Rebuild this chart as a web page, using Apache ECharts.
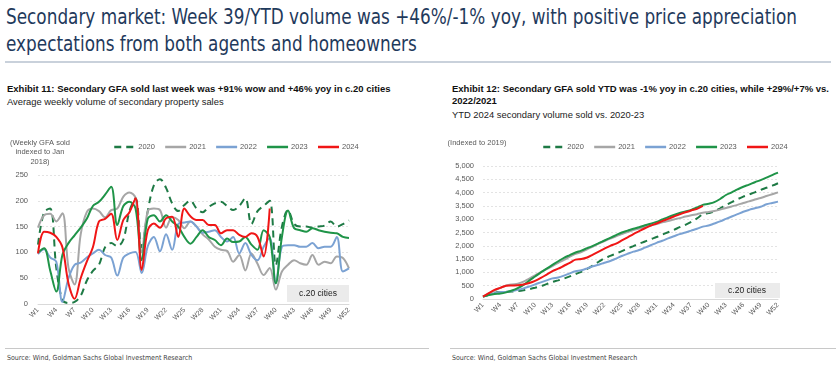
<!DOCTYPE html>
<html>
<head>
<meta charset="utf-8">
<script src="https://cdn.jsdelivr.net/npm/echarts@6/dist/echarts.min.js"></script>
<style>
  body { margin: 0; background: #fff; width: 836px; height: 376px; overflow: hidden; position: relative; font-family: "Liberation Sans", Arial, sans-serif; }
  .hd { position: absolute; left: 6px; top: 4px; font-family: "DejaVu Sans Condensed", "Liberation Sans", sans-serif; font-size: 21px; line-height: 27px; color: #1f3a5c; white-space: nowrap; transform-origin: 0 0; }
  .rule { position: absolute; left: 5px; top: 61px; width: 826px; height: 2px; background: #c9d1db; }
  .ex { position: absolute; font-size: 9.5px; font-weight: bold; color: #111; line-height: 12px; white-space: nowrap; }
  .sub { position: absolute; font-size: 9.4px; color: #222; white-space: nowrap; }
  .foot { position: absolute; top: 348px; height: 1px; background: #c8c8c8; }
  .src { position: absolute; top: 354px; font-family: "DejaVu Sans Condensed", sans-serif; font-size: 7px; color: #444; white-space: nowrap; }
  #weekly { position: absolute; left: 0; top: 130px; width: 420px; height: 215px; }
  #ytd { position: absolute; left: 420px; top: 130px; width: 416px; height: 215px; }
</style>
</head>
<body>
<div class="hd" id="hd"><span id="hd1">Secondary market: Week 39/YTD volume was +46%/-1% yoy, with positive price appreciation</span><br>expectations from both agents and homeowners</div>
<div class="rule"></div>

<div class="ex" style="left:7px;top:83px;">Exhibit 11: Secondary GFA sold last week was +91% wow and +46% yoy in c.20 cities</div>
<div class="sub" style="left:7px;top:96px;">Average weekly volume of secondary property sales</div>

<div class="ex" style="left:452px;top:83px;">Exhibit 12: Secondary GFA sold YTD was -1% yoy in c.20 cities, while +29%/+7% vs.<br>2022/2021</div>
<div class="sub" style="left:452px;top:109px;">YTD 2024 secondary volume sold vs. 2020-23</div>

<div id="weekly"></div>
<div id="ytd"></div>

<div class="foot" style="left:5px;width:424px;"></div>
<div class="foot" style="left:450px;width:386px;"></div>
<div class="src" style="left:7px;">Source: Wind, Goldman Sachs Global Investment Research</div>
<div class="src" style="left:452px;">Source: Wind, Goldman Sachs Global Investment Research</div>

<script>
// squeeze the headline to the condensed width of the original
const hd1 = document.getElementById("hd1");
document.getElementById("hd").style.transform = "scaleX(" + (791 / hd1.getBoundingClientRect().width) + ")";

// weeks W1..W52
const weeks = [];
for (let i = 1; i <= 52; i++) weeks.push("W" + i);

// Exhibit 11: weekly volume (indexed to Jan 2018)
const wk2020 = [115, 178, 185, 70, 8, 2, 4, 16, 45, 64, 76, 110, 118, 112, 125, 180, 205, 110, 180, 230, 242, 225, 195, 180, 192, 200, 185, 178, 188, 195, 198, 190, 182, 190, 205, 155, 180, 190, 200, 75, 150, 182, 155, 150, 150, 148, 150, 152, 160, 150, 155, 162];
const wk2021 = [148, 172, 175, 160, 176, 70, 38, 135, 178, 185, 180, 168, 182, 185, 208, 216, 205, 100, 180, 185, 182, 148, 168, 163, 147, 160, 150, 135, 125, 111, 105, 103, 82, 95, 65, 98, 78, 56, 70, 28, 63, 76, 85, 79, 76, 95, 76, 82, 79, 92, 89, 69];
const wk2022 = [97, 106, 90, 82, 4, 50, 76, 80, 90, 98, 105, 95, 90, 55, 90, 98, 101, 60, 112, 130, 102, 135, 105, 155, 158, 160, 150, 138, 140, 143, 130, 121, 130, 98, 118, 95, 85, 111, 128, 40, 111, 114, 114, 111, 111, 118, 108, 111, 111, 130, 63, 69];
const wk2023 = [100, 108, 65, 24, 95, 118, 133, 148, 165, 190, 198, 212, 227, 153, 190, 198, 185, 85, 165, 172, 160, 172, 160, 150, 130, 117, 130, 143, 130, 124, 114, 127, 120, 121, 130, 115, 105, 143, 130, 40, 130, 181, 147, 143, 140, 147, 143, 140, 138, 137, 130, 128];
const wk2024 = [98, 140, 138, 130, 110, 40, 10, 50, 82, 110, 160, 165, 175, 124, 163, 178, 205, 66, 143, 156, 148, 166, 169, 130, 185, 170, 163, 163, 153, 153, 137, 143, 143, 134, 130, 137, 130, 92, 185];

// Exhibit 12: YTD cumulative volume (indexed to 2019)
const ytd2020 = [90, 160, 230, 260, 270, 280, 300, 330, 370, 420, 480, 560, 640, 700, 770, 850, 940, 1020, 1130, 1260, 1400, 1530, 1620, 1710, 1800, 1900, 1990, 2080, 2160, 2250, 2330, 2420, 2510, 2600, 2700, 2790, 2900, 3030, 3180, 3230, 3290, 3410, 3530, 3640, 3750, 3850, 3930, 4010, 4100, 4180, 4260, 4350];
const ytd2021 = [90, 200, 320, 420, 510, 550, 570, 650, 770, 890, 1010, 1120, 1240, 1360, 1470, 1590, 1700, 1760, 1870, 1970, 2080, 2180, 2270, 2360, 2440, 2520, 2590, 2650, 2710, 2760, 2820, 2880, 2930, 2990, 3040, 3100, 3150, 3190, 3240, 3270, 3310, 3360, 3420, 3480, 3540, 3610, 3670, 3740, 3800, 3870, 3940, 4010];
const ytd2022 = [90, 160, 215, 260, 265, 300, 345, 400, 470, 550, 625, 700, 775, 810, 880, 965, 1040, 1080, 1150, 1230, 1290, 1365, 1430, 1520, 1615, 1700, 1780, 1840, 1930, 2020, 2110, 2190, 2280, 2360, 2440, 2500, 2570, 2640, 2720, 2760, 2840, 2920, 3010, 3100, 3190, 3280, 3350, 3410, 3470, 3560, 3610, 3660];
const ytd2023 = [90, 150, 190, 205, 250, 320, 410, 530, 690, 845, 1000, 1140, 1280, 1420, 1550, 1650, 1750, 1820, 1910, 2000, 2100, 2200, 2300, 2400, 2500, 2570, 2640, 2700, 2770, 2830, 2900, 2990, 3080, 3160, 3230, 3290, 3350, 3440, 3540, 3580, 3640, 3760, 3910, 4010, 4120, 4220, 4300, 4390, 4470, 4560, 4660, 4750];
const ytd2024 = [90, 220, 340, 420, 500, 510, 515, 545, 600, 680, 790, 920, 1050, 1140, 1250, 1360, 1480, 1500, 1560, 1670, 1780, 1890, 2000, 2080, 2200, 2320, 2440, 2550, 2660, 2760, 2840, 2930, 3010, 3100, 3180, 3260, 3330, 3390, 3500];

const years = ["2020", "2021", "2022", "2023", "2024"];
const colors = ["#1e7a45", "#a6a6a6", "#7ba2d3", "#1f9448", "#f01616"];
const labelColor = "#595959";

function makeSeries(datas) {
  return datas.map((d, i) => ({
    name: years[i],
    type: "line",
    data: d,
    symbol: "none",
    smooth: 0.35,
    z: i + 2,
    lineStyle: {
      width: 2,
      color: colors[i],
      type: i === 0 ? [7, 5] : "solid",
    },
    itemStyle: { color: colors[i] },
  }));
}

function baseOption(grid, yAxis, legendLeft) {
  return {
    animation: false,
    textStyle: { fontFamily: "Liberation Sans, Arial, sans-serif" },
    legend: {
      top: 8,
      left: legendLeft,
      itemWidth: 21,
      itemHeight: 6,
      itemGap: 9,
      itemStyle: { opacity: 0 },
      lineStyle: { width: 2.5 },
      textStyle: { fontSize: 7.5, color: labelColor, padding: [0, 0, 0, -2] },
      data: years,
    },
    grid: grid,
    xAxis: {
      type: "category",
      data: weeks,
      boundaryGap: false,
      axisTick: { show: false },
      axisLine: { lineStyle: { color: "#d9d9d9", width: 1 } },
      axisLabel: { interval: 2, rotate: 45, fontSize: 7, color: labelColor, margin: 5 },
    },
    yAxis: Object.assign({
      type: "value",
      axisLine: { show: false },
      axisTick: { show: false },
      splitLine: { lineStyle: { color: "#e3e3e3", type: [2, 2] } },
    }, yAxis),
  };
}

// Exhibit 11
let weeklyChart = echarts.init(document.getElementById("weekly"));
let opt1 = baseOption(
  { left: 38, top: 45, width: 311, height: 129 },
  { min: 0, max: 250, interval: 50, axisLabel: { fontSize: 7.5, color: labelColor, margin: 10 } },
  108
);
opt1.series = makeSeries([wk2020, wk2021, wk2022, wk2023, wk2024]);
opt1.graphic = [
  {
    type: "text",
    style: { text: "(Weekly GFA sold\nindexed to Jan\n2018)", x: 40, y: 8, fill: labelColor, fontSize: 7.5, align: "center", lineHeight: 9.5 },
  },
  { type: "rect", shape: { x: 287, y: 155, width: 62, height: 17 }, style: { fill: "#ebebeb" }, z: 10 },
  { type: "text", style: { text: "c.20 cities", x: 318, y: 163.5, fill: "#222", fontSize: 8.5, align: "center", verticalAlign: "middle" }, z: 11 },
];
weeklyChart.setOption(opt1);

// Exhibit 12
let ytdChart = echarts.init(document.getElementById("ytd"));
let opt2 = baseOption(
  { left: 63, top: 36, width: 295, height: 133 },
  {
    min: 0, max: 5000, interval: 500,
    axisLabel: {
      fontSize: 7.5, color: labelColor, margin: 9,
      formatter: (v) => v.toLocaleString("en-US"),
    },
  },
  117
);
opt2.series = makeSeries([ytd2020, ytd2021, ytd2022, ytd2023, ytd2024]);
opt2.graphic = [
  { type: "text", style: { text: "(Indexed to 2019)", x: 57, y: 13, fill: labelColor, fontSize: 7.5, align: "center", verticalAlign: "middle" } },
  { type: "rect", shape: { x: 295, y: 153, width: 65, height: 15 }, style: { fill: "#ebebeb" }, z: 10 },
  { type: "text", style: { text: "c.20 cities", x: 327, y: 160.5, fill: "#222", fontSize: 8.5, align: "center", verticalAlign: "middle" }, z: 11 },
];
ytdChart.setOption(opt2);

window.addEventListener("resize", function () {
  weeklyChart.resize();
  ytdChart.resize();
});
</script>
</body>
</html>
